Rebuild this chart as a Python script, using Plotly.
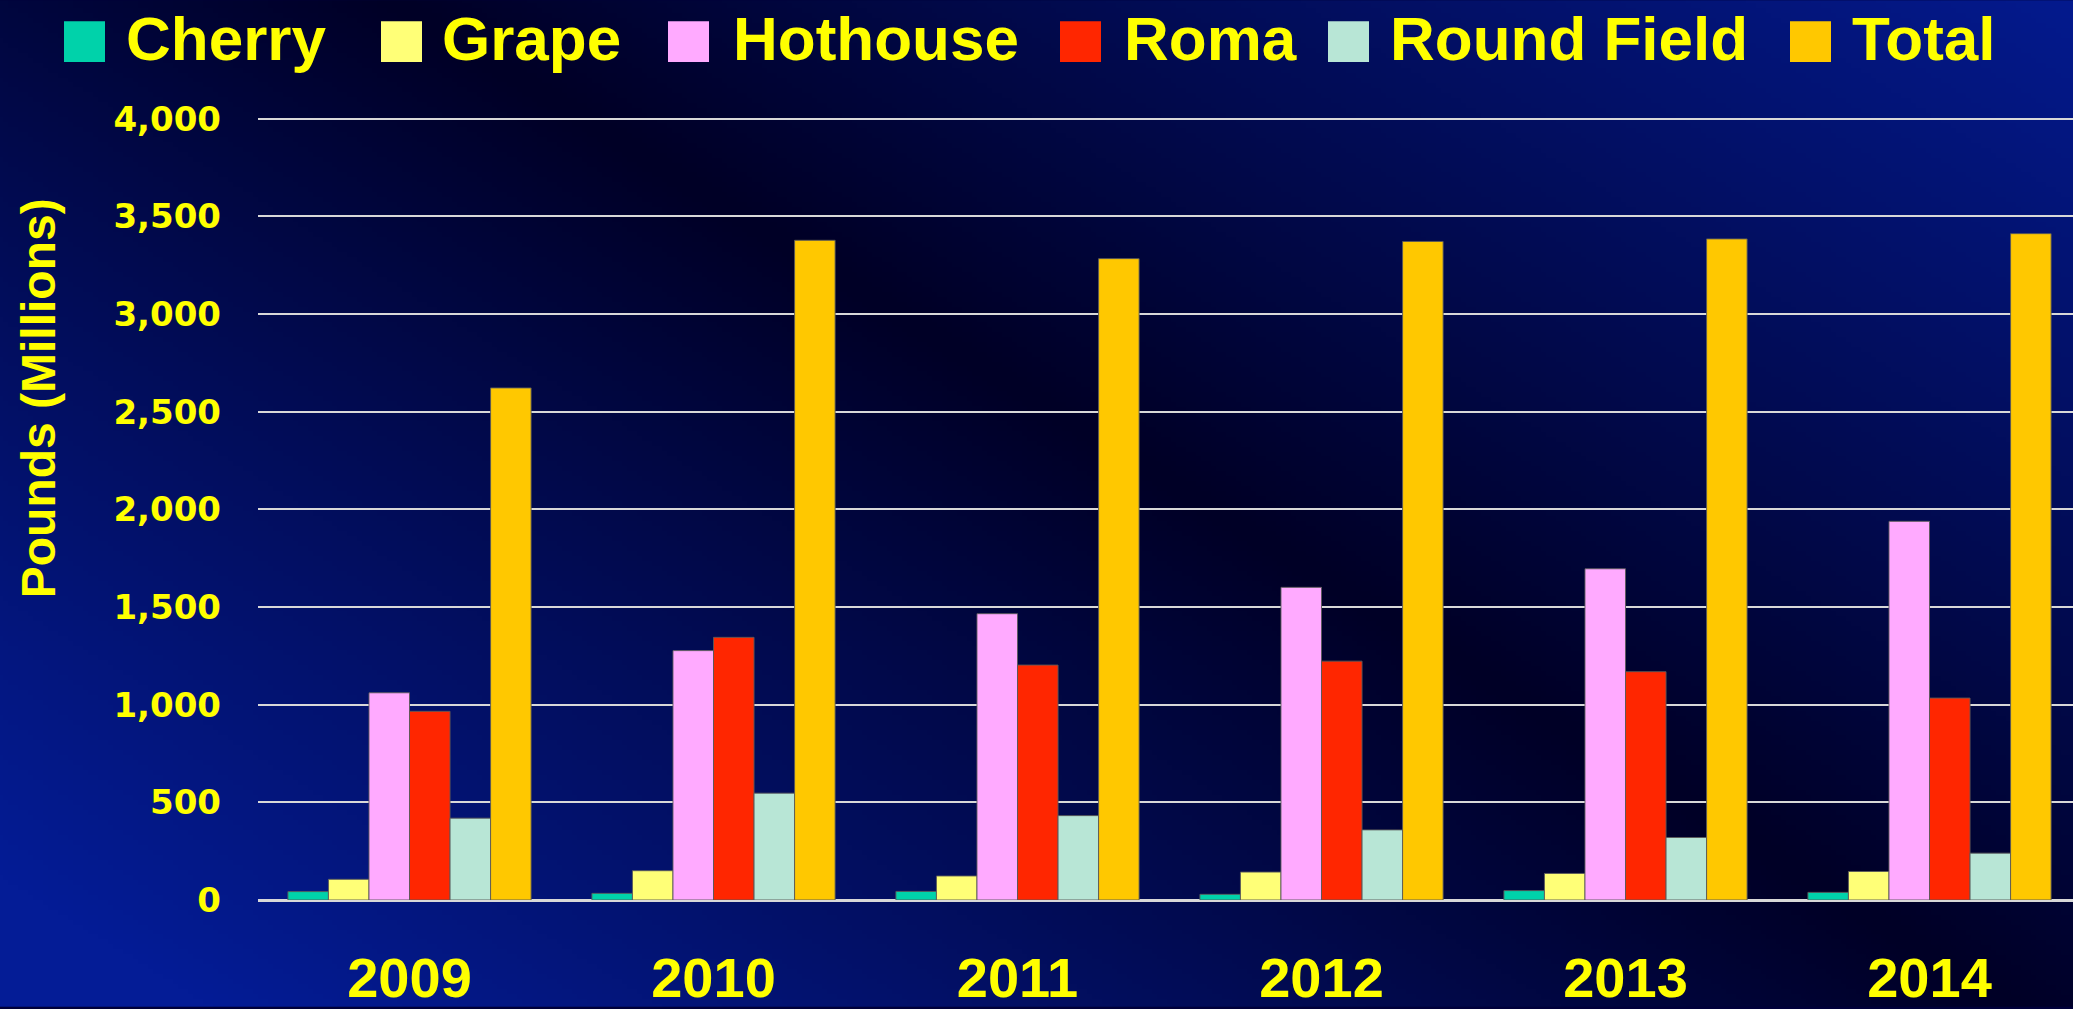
import base64
import struct
import zlib

import numpy as np
import plotly.graph_objects as go

# ---------------- data ----------------
years = ["2009", "2010", "2011", "2012", "2013", "2014"]
series_names = ["Cherry", "Grape", "Hothouse", "Roma", "Round Field", "Total"]
cherry = [43, 34, 44, 29, 48, 39]
grape = [106, 150, 123, 143, 136, 146]
hothouse = [1061, 1277, 1466, 1601, 1696, 1939]
roma = [966, 1345, 1203, 1223, 1169, 1034]
round_field = [419, 547, 432, 359, 320, 240]
total = [2622, 3378, 3284, 3372, 3385, 3412]
y_tick_values = [0, 500, 1000, 1500, 2000, 2500, 3000, 3500, 4000]
y_title = "Pounds (Millions)"

series_values = [cherry, grape, hothouse, roma, round_field, total]
colors = ["#00D2AA", "#FFFF77", "#FFAAFF", "#FF2600", "#B8E6D6", "#FFC800"]

# ---------------- layout constants ----------------
W, H = 2073, 1009
Y_MAX = 4040
ML, MR, MB = 258, 0, 107
MT = round(H - MB - 783 * Y_MAX / 4000)
PW, PH = W - ML - MR, H - MT - MB
YELLOW = "#FFFF00"
FONT = "Liberation Sans"


def px_to_paper_x(px):
    return (px - ML) / PW


def px_to_paper_y(py):
    return (H - MB - py) / PH


# ---------------- background gradient image ----------------
def gradient_png(w, h):
    xs = (np.arange(w) + 0.5) * W / w
    ys = (np.arange(h) + 0.5) * H / h
    X, Y = np.meshgrid(xs, ys)
    p1 = np.array([530.0, 85.0])
    d = np.array([1470.0, 915.0])
    d /= np.linalg.norm(d)
    n = np.array([d[1], -d[0]])
    s = (X - p1[0]) * n[0] + (Y - p1[1]) * n[1]
    t = np.clip(np.abs(s) / 950.0, 0, 1) ** 1.0
    dark = np.array([0, 0, 38])
    bright = np.array([4, 28, 150])
    img = dark[None, None, :] + (bright - dark)[None, None, :] * t[:, :, None]
    img = np.clip(img, 0, 255).astype(np.uint8)
    raw = b"".join(b"\x00" + img[r].tobytes() for r in range(h))

    def chunk(tag, data):
        c = struct.pack(">I", len(data)) + tag + data
        return c + struct.pack(">I", zlib.crc32(tag + data) & 0xFFFFFFFF)

    png = b"\x89PNG\r\n\x1a\n"
    png += chunk(b"IHDR", struct.pack(">IIBBBBB", w, h, 8, 2, 0, 0, 0))
    png += chunk(b"IDAT", zlib.compress(raw, 9))
    png += chunk(b"IEND", b"")
    return "data:image/png;base64," + base64.b64encode(png).decode()


bg_src = gradient_png(415, 202)

# ---------------- figure ----------------
fig = go.Figure()
for name, vals, col in zip(series_names, series_values, colors):
    fig.add_trace(
        go.Bar(
            x=years,
            y=vals,
            name=name,
            marker=dict(color=col, line=dict(color="rgba(90,90,90,0.9)", width=1)),
            showlegend=False,
        )
    )

# custom legend (large square swatches)
legend_square_left = [64, 381, 668, 1060, 1328, 1790]
legend_text_left = [124, 440, 731, 1122, 1388, 1850]
sq_top, sq_bottom, text_mid = 21, 62, 38
shapes = []
annotations = []
for name, col, sx, tx in zip(series_names, colors, legend_square_left, legend_text_left):
    shapes.append(
        dict(
            type="rect",
            xref="paper",
            yref="paper",
            x0=px_to_paper_x(sx),
            x1=px_to_paper_x(sx + 41),
            y0=px_to_paper_y(sq_bottom),
            y1=px_to_paper_y(sq_top),
            fillcolor=col,
            line=dict(width=0),
            layer="above",
        )
    )
    annotations.append(
        dict(
            text=f"<b>{name}</b>",
            xref="paper",
            yref="paper",
            x=px_to_paper_x(tx),
            y=px_to_paper_y(text_mid),
            xanchor="left",
            yanchor="middle",
            showarrow=False,
            font=dict(family=FONT, size=62, color=YELLOW),
        )
    )

annotations.append(
    dict(
        text=f"<b>{y_title}</b>",
        xref="paper",
        yref="paper",
        x=px_to_paper_x(38),
        y=px_to_paper_y(399),
        xanchor="center",
        yanchor="middle",
        textangle=-90,
        showarrow=False,
        font=dict(family=FONT, size=48, color=YELLOW),
    )
)

fig.update_layout(
    width=W,
    height=H,
    margin=dict(l=ML, r=MR, t=MT, b=MB, pad=0),
    paper_bgcolor="#00003a",
    plot_bgcolor="rgba(0,0,0,0)",
    barmode="group",
    bargap=0.2,
    bargroupgap=0,
    shapes=shapes,
    annotations=annotations,
    images=[
        dict(
            source=bg_src,
            xref="paper",
            yref="paper",
            x=px_to_paper_x(0),
            y=px_to_paper_y(0),
            sizex=W / PW,
            sizey=H / PH,
            sizing="stretch",
            xanchor="left",
            yanchor="top",
            layer="below",
        )
    ],
    xaxis=dict(
        type="category",
        range=[-0.4984, 5.472],
        showgrid=False,
        showline=False,
        ticks="",
        tickfont=dict(family=FONT, size=56, color=YELLOW, weight="bold"),
        ticklabelstandoff=40,
    ),
    yaxis=dict(
        range=[0, Y_MAX],
        tickvals=y_tick_values,
        tickformat=",",
        showgrid=True,
        gridcolor="#D8D8D8",
        gridwidth=1.5,
        zeroline=True,
        zerolinecolor="#D8D8D8",
        zerolinewidth=2.5,
        showline=False,
        ticks="",
        tickfont=dict(family="DejaVu Sans", size=34, color=YELLOW, weight="bold"),
        ticklabelstandoff=36,
    ),
)

fig.write_html(
    "out.html",
    config={"displayModeBar": False},
    post_script="document.body.style.margin='0';document.body.style.overflow='hidden';",
)
